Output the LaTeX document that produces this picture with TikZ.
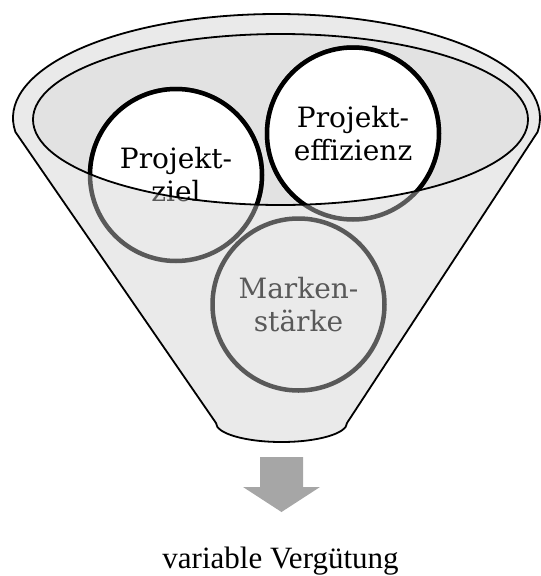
\documentclass[tikz,border=0pt]{standalone}
\usepackage{fontspec}
\setmainfont{Liberation Serif}
\newfontfamily\bubblefont{DejaVu Serif}
\definecolor{funnelgray}{RGB}{234,234,234}
\definecolor{rimgray}{RGB}{226,226,226}
\definecolor{textgray}{RGB}{89,89,89}
\definecolor{arrowgray}{RGB}{166,166,166}
\tikzset{
    bubble/.style={circle, minimum size=172pt, inner sep=0pt, line width=4.5pt, align=center,
        font=\bubblefont\fontsize{28}{33}\selectfont},
    backbubble/.style={bubble, draw=textgray, text=textgray},
    frontbubble/.style={bubble, draw=black, fill=white, text=black},
}
\begin{document}
\begin{tikzpicture}[x=1pt, y=1pt]
    \useasboundingbox (0, 0) rectangle (541, -576);
    \draw[line width=1.8pt, fill=funnelgray] (276.5, -118) ++(187.7:263.5 and 104)
        arc[start angle=187.7, end angle=-7.7, x radius=263.5, y radius=104]
        -- (347, -423) arc[start angle=0, end angle=-180, x radius=65.5, y radius=19] -- cycle;
    \fill[rimgray] (280.5, -119.5) ellipse[x radius=247.5, y radius=85.5];
    \node[backbubble] (ziel) at (176, -175) {Projekt-\\ziel};
    \node[backbubble] (effizienz) at (353, -133.5) {Projekt-\\effizienz};
    \node[backbubble] (marken) at (298.5, -304.5) {Marken-\\stärke};
    \begin{scope}
        \clip (280.5, -119.5) ellipse[x radius=247.5, y radius=85.5];
        \node[frontbubble] (ziel-top) at (ziel) {Projekt-\\ziel};
        \node[frontbubble] (effizienz-top) at (effizienz) {Projekt-\\effizienz};
    \end{scope}
    \draw[line width=1.8pt] (280.5, -119.5) ellipse[x radius=247.5, y radius=85.5];
    \fill[arrowgray] (260, -457) -- (303, -457) -- (303, -487) -- (320, -487) -- (281.5, -512)
        -- (243, -487) -- (260, -487) -- cycle;
    \node[anchor=base, font=\fontsize{31}{36}\selectfont, inner sep=0pt] (verguetung) at (280.5, -568.5) {variable Vergütung};
\end{tikzpicture}
\end{document}
